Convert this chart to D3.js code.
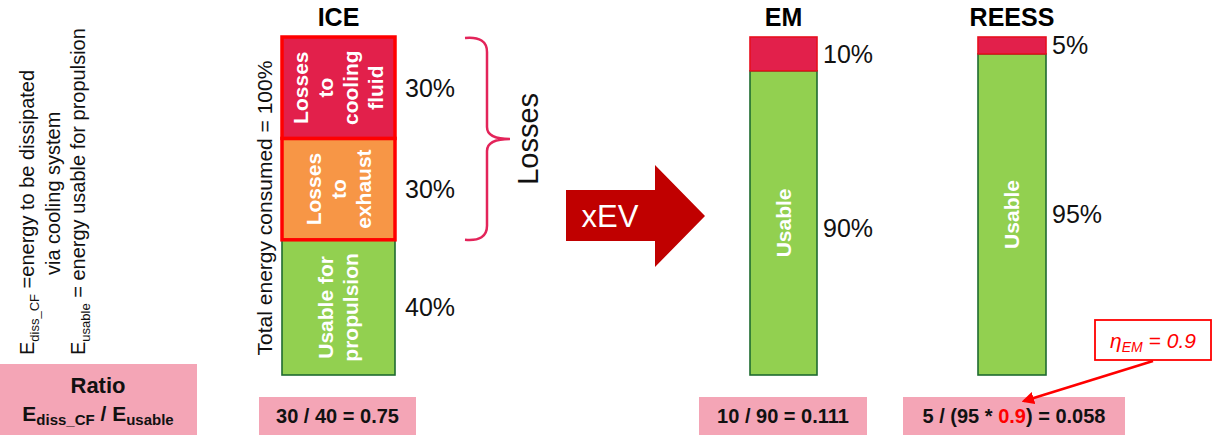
<!DOCTYPE html>
<html>
<head>
<meta charset="utf-8">
<script src="https://cdn.jsdelivr.net/npm/d3@7"></script>
<style>
  html, body { margin: 0; padding: 0; background: #fff; }
  svg { display: block; font-family: "Liberation Sans", Arial, sans-serif; }
</style>
</head>
<body>
<svg id="chart" width="1212" height="435"></svg>
<script>
// Energy split per powertrain component (% of total energy consumed)
const categories   = ["ICE", "EM", "REESS"];
const usableShare  = [40, 90, 95];
const exhaustShare = [30, 0, 0];
const coolingShare = [30, 10, 5];

// Text written inside the segments (one entry per line)
const usableText  = [["Usable for", "propulsion"], ["Usable"], ["Usable"]];
const exhaustText = [["Losses", "to", "exhaust"], [], []];
const coolingText = [["Losses", "to", "cooling", "fluid"], [], []];

// Ratio boxes under each column
const ratioNumerators   = ["30", "10", "5"];
const ratioDenominators = ["40", "90", "(95 * "];
const ratioResults      = ["0.75", "0.111", "0.058"];
const etaEM = "0.9";

// Layout (pixels)
const colX = { ICE: 282, EM: 750, REESS: 978 };
const colW = { ICE: 113, EM: 67, REESS: 68 };
const boxes = { ICE: [259, 416], EM: [699, 867], REESS: [903, 1125] };

const colors = {
  usable: "#92d050", usableStroke: "#1f6b30",
  exhaust: "#f79646", cooling: "#e2204b",
  lossStroke: "#ff0000", pink: "#f4a5b6", arrow: "#c00000", brace: "#e3245a"
};

const svg = d3.select("#chart");
const y = d3.scaleLinear().domain([0, 100]).range([375, 37]);

const rows = categories.map((c, i) => ({
  cat: c, usable: usableShare[i], exhaust: exhaustShare[i], cooling: coolingShare[i], i
}));
const keys = ["usable", "exhaust", "cooling"];
const stacked = d3.stack().keys(keys)(rows);

const fills = { usable: colors.usable, exhaust: colors.exhaust, cooling: colors.cooling };
const texts = { usable: usableText, exhaust: exhaustText, cooling: coolingText };

// Stacked bars
stacked.forEach(layer => {
  const key = layer.key;
  const g = svg.append("g").attr("class", "layer-" + key);
  layer.forEach(seg => {
    const d = seg.data;
    if (seg[1] - seg[0] <= 0) return;
    const x0 = colX[d.cat], w = colW[d.cat];
    const isIceLoss = d.cat === "ICE" && key !== "usable";
    g.append("rect")
      .attr("x", x0)
      .attr("y", y(seg[1]))
      .attr("width", w)
      .attr("height", y(seg[0]) - y(seg[1]))
      .attr("fill", fills[key])
      .attr("stroke", key === "usable" ? colors.usableStroke : (isIceLoss ? colors.lossStroke : "#e8101f"))
      .attr("stroke-width", isIceLoss ? 3.5 : 1.6);

    // rotated inside text
    const lines = texts[key][d.i];
    if (lines.length) {
      const lh = 25;
      const cx = x0 + w / 2 + (d.cat === "ICE" ? 0 : 0);
      const cy = (y(seg[0]) + y(seg[1])) / 2;
      const t = g.append("text")
        .attr("transform", `translate(${cx},${cy}) rotate(-90)`)
        .attr("text-anchor", "middle")
        .attr("fill", "#fff")
        .attr("font-weight", "bold")
        .attr("font-size", 21);
      lines.forEach((ln, k) => {
        t.append("tspan")
          .attr("x", 0)
          .attr("y", (k - (lines.length - 1) / 2) * lh + 7)
          .text(ln);
      });
    }

    // percentage to the right
    svg.append("text")
      .attr("x", x0 + w + (d.cat === "ICE" ? 10 : 6))
      .attr("y", (y(seg[0]) + y(seg[1])) / 2 + 9 + (d.cat === "EM" && key === "usable" ? 5 : 0))
      .attr("font-size", 25)
      .attr("fill", "#111")
      .text((seg[1] - seg[0]) + "%");
  });
});

// Column titles
svg.selectAll("text.title").data(categories).join("text")
  .attr("class", "title")
  .attr("x", c => colX[c] + colW[c] / 2 + (c === "ICE" ? 0 : 0))
  .attr("y", 26)
  .attr("text-anchor", "middle")
  .attr("font-weight", "bold")
  .attr("font-size", 25)
  .text(c => c);

// Axis-like label for ICE
svg.append("text")
  .attr("transform", `translate(272,${(y(0) + y(100)) / 2 + 2}) rotate(-90)`)
  .attr("text-anchor", "middle")
  .attr("font-size", 21)
  .attr("fill", "#111")
  .text("Total energy consumed = 100%");

// Brace grouping the ICE losses
const bTop = y(100) + 1, bMid = y(usableShare[0] + exhaustShare[0]) + 0.5 * (y(usableShare[0]) - y(100)) / 1, bBot = y(usableShare[0]);
const midY = (bTop + bBot) / 2;
const bp = d3.path();
bp.moveTo(465, bTop);
bp.quadraticCurveTo(487, bTop - 2, 487, bTop + 14);
bp.lineTo(487, midY - 12);
bp.quadraticCurveTo(487, midY, 510, midY);
bp.quadraticCurveTo(487, midY, 487, midY + 12);
bp.lineTo(487, bBot - 14);
bp.quadraticCurveTo(487, bBot + 2, 465, bBot);
svg.append("path")
  .attr("d", bp.toString())
  .attr("fill", "none")
  .attr("stroke", colors.brace)
  .attr("stroke-width", 2.5);

svg.append("text")
  .attr("transform", `translate(538,${midY}) rotate(-90)`)
  .attr("text-anchor", "middle")
  .attr("font-size", 29)
  .attr("fill", "#111")
  .text("Losses");

// xEV arrow
const arrowPts = [[566, 190], [655, 190], [655, 165], [705, 216], [655, 267], [655, 241], [566, 241]];
svg.append("path")
  .attr("d", d3.line()(arrowPts) + "Z")
  .attr("fill", colors.arrow);
svg.append("text")
  .attr("x", 610).attr("y", 227)
  .attr("text-anchor", "middle")
  .attr("font-size", 31)
  .attr("fill", "#fff")
  .text("xEV");

// Definitions (rotated) on the left
function rotatedDef(x, yStart, parts) {
  const t = svg.append("text")
    .attr("transform", `translate(${x},${yStart}) rotate(-90)`)
    .attr("font-size", 20)
    .attr("fill", "#111");
  parts.forEach(p => {
    const s = t.append("tspan").text(p.text);
    if (p.sub) s.attr("font-size", 13).attr("dy", 5);
    if (p.unsub) s.attr("dy", -5);
  });
}
rotatedDef(34, 355, [
  { text: "E" }, { text: "diss_CF", sub: true }, { text: " =energy to be dissipated", unsub: true }
]);
rotatedDef(60, 275, [{ text: "via cooling system" }]);
rotatedDef(85, 355, [
  { text: "E" }, { text: "usable", sub: true }, { text: " =  energy usable for propulsion", unsub: true }
]);

// Ratio header box
svg.append("rect").attr("x", 0).attr("y", 364).attr("width", 197).attr("height", 71).attr("fill", colors.pink);
svg.append("text").attr("x", 98).attr("y", 393).attr("text-anchor", "middle")
  .attr("font-weight", "bold").attr("font-size", 22).attr("fill", "#111").text("Ratio");
const rh = svg.append("text").attr("x", 98).attr("y", 421).attr("text-anchor", "middle")
  .attr("font-weight", "bold").attr("font-size", 21).attr("fill", "#111");
rh.append("tspan").text("E");
rh.append("tspan").attr("font-size", 15).attr("dy", 4).text("diss_CF");
rh.append("tspan").attr("dy", -4).text(" / E");
rh.append("tspan").attr("font-size", 15).attr("dy", 4).text("usable");

// Ratio boxes per column
categories.forEach((c, i) => {
  const [x0, x1] = boxes[c];
  svg.append("rect").attr("x", x0).attr("y", 397).attr("width", x1 - x0).attr("height", 38).attr("fill", colors.pink);
  const t = svg.append("text").attr("x", (x0 + x1) / 2).attr("y", 423)
    .attr("text-anchor", "middle").attr("font-weight", "bold").attr("font-size", 20).attr("fill", "#111");
  t.append("tspan").text(`${ratioNumerators[i]} / ${ratioDenominators[i]}`);
  if (c === "REESS") {
    t.append("tspan").attr("fill", "#ff0000").text(etaEM);
    t.append("tspan").text(")");
  }
  t.append("tspan").text(` = ${ratioResults[i]}`);
});

// Efficiency callout
svg.append("defs").append("marker")
  .attr("id", "head").attr("viewBox", "0 0 10 10").attr("refX", 8).attr("refY", 5)
  .attr("markerWidth", 5).attr("markerHeight", 5).attr("orient", "auto")
  .append("path").attr("d", "M0,0 L10,5 L0,10 Z").attr("fill", "#ff0000");
svg.append("line")
  .attr("x1", 1153).attr("y1", 361).attr("x2", 1024).attr("y2", 401)
  .attr("stroke", "#ff0000").attr("stroke-width", 2.5).attr("marker-end", "url(#head)");
svg.append("rect").attr("x", 1095).attr("y", 320).attr("width", 116).attr("height", 40)
  .attr("fill", "#fff").attr("stroke", "#ff0000").attr("stroke-width", 1.8);
const eta = svg.append("text").attr("x", 1153).attr("y", 348).attr("text-anchor", "middle")
  .attr("font-style", "italic").attr("font-size", 21).attr("fill", "#ff0000");
eta.append("tspan").text("η");
eta.append("tspan").attr("font-size", 14).attr("dy", 4).text("EM");
eta.append("tspan").attr("dy", -4).text(" = " + etaEM);
</script>
</body>
</html>
